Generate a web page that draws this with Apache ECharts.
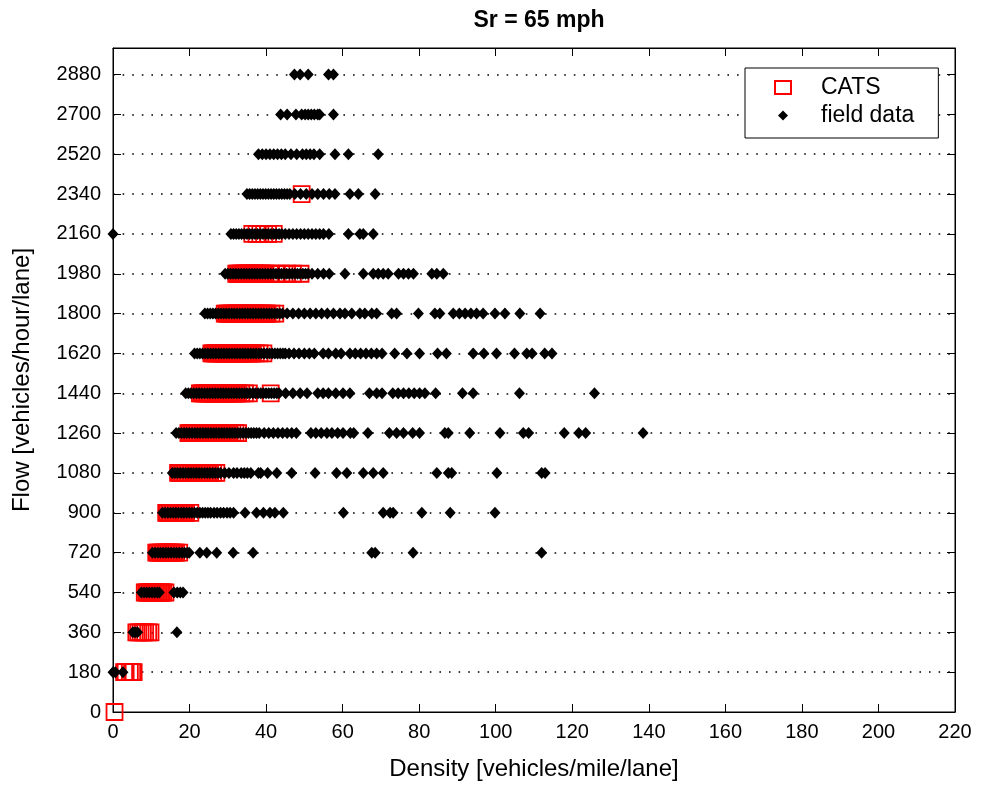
<!DOCTYPE html>
<html>
<head>
<meta charset="utf-8">
<script src="https://cdn.jsdelivr.net/npm/echarts@6/dist/echarts.min.js"></script>
<style>
  html, body { margin: 0; padding: 0; background: #fff; }
  #chart { width: 982px; height: 786px; }
</style>
</head>
<body>
<div id="chart"></div>
<script>
// flow levels (y), one row of points per level
var flowLevels = [0, 180, 360, 540, 720, 900, 1080, 1260, 1440, 1620, 1800, 1980, 2160, 2340, 2520, 2700, 2880];

// field data density values per flow level (same order as flowLevels)
var field0 = [];
var field180 = [0, 0.6, 2.6];
var field360 = [5.2, 5.8, 6.4, 16.7];
var field540 = [7.4, 8.1, 8.8, 9.5, 10.2, 10.9, 11.6, 12.1, 15.9, 16.8, 17.6, 18.3];
var field720 = [10.3, 11, 11.7, 12.4, 13.1, 13.8, 14.5, 15.2, 15.9, 16.6, 17.3, 18, 18.7, 19.4, 19.9,
  22.7, 24.5, 27.1, 31.4, 36.6, 67.6, 68.5, 78.4, 112];
var field900 = [12.9, 13.6, 14.3, 15, 15.7, 16.4, 17.1, 17.8, 18.5, 19.2, 19.9, 20.6, 21.3, 22, 22.7, 23.4,
  24.1, 24.8, 25.5, 26.4, 27.2, 28.1, 28.9, 29.8, 30.6, 31.5, 34.5, 37.5, 39.3, 41, 42.3, 44.5,
  60.2, 70.6, 72.4, 73.2, 80.7, 88.1, 99.8];
var field1080 = [15.5, 16.2, 16.9, 17.6, 18.3, 19, 19.7, 20.4, 21.1, 21.8, 22.5, 23.2, 23.9, 24.6, 25.3, 26,
  26.7, 27.4, 28.1, 29.2, 30.3, 31.5, 32.4, 33.5, 34.3, 35.1, 36, 38, 38.6, 40.4, 42.8, 46.7, 52.8,
  58.4, 61.1, 65.4, 68, 70.6, 84.6, 87.6, 88.5, 100.3, 112, 112.9];
var field1260 = [16.5, 17.2, 17.9, 18.6, 19.3, 20, 20.7, 21.4, 22.1, 22.8, 23.5, 24.2, 24.9, 25.6, 26.3, 27,
  27.7, 28.4, 29.1, 29.8, 30.5, 31.2, 31.9, 32.6, 33.3, 34, 34.7, 35.4, 36.1, 36.8, 37.5, 38.2,
  39.5, 40.7, 41.9, 43.1, 44.3, 45.5, 46.7, 47.9, 51.7, 53, 54.4, 55.9, 57.2, 58.7, 60.1, 62, 62.9,
  66.6, 72.2, 74.1, 75.9, 78.3, 80.1, 86.7, 87.6, 93.2, 101.1, 107.2, 108.6, 117.9, 121.7, 123.5, 138.5];
var field1440 = [19, 19.7, 20.4, 21.1, 21.8, 22.5, 23.2, 23.9, 24.6, 25.3, 26, 26.7, 27.4, 28.1, 28.8, 29.5,
  30.2, 30.9, 31.6, 32.3, 33, 33.7, 34.4, 35.1, 35.8, 36.5, 37.2, 37.9, 38.6, 39.3, 40, 40.7, 41.4,
  42.1, 42.8, 43.4, 45.1, 47, 48.9, 50.7, 53.5, 54.9, 56.3, 58.2, 60.1, 61.9, 67, 68.9, 70.3, 73.1,
  74.5, 75.9, 77.3, 78.7, 80.1, 81.5, 84.3, 91.3, 94.1, 106.2, 125.8];
var field1620 = [21.3, 22, 22.7, 23.4, 24.1, 24.8, 25.5, 26.2, 26.9, 27.6, 28.3, 29, 29.7, 30.4, 31.1, 31.8,
  32.5, 33.2, 33.9, 34.6, 35.3, 36, 36.7, 37.4, 38.1, 38.8, 39.5, 40.2, 40.9, 41.6, 42.3, 43, 43.7,
  44.4, 45, 46, 47.3, 48.6, 50, 51.3, 52.6, 54.9, 56.3, 58.2, 59.6, 61.9, 63.3, 64.7, 66.1, 67.5,
  68.9, 70.3, 73.6, 76.8, 80.1, 84.8, 87.1, 94.1, 96.9, 100.2, 104.9, 108.1, 109.5, 112.8, 114.7];
var field1800 = [24, 24.7, 25.4, 26.1, 26.8, 27.5, 28.2, 28.9, 29.6, 30.3, 31, 31.7, 32.4, 33.1, 33.8, 34.5,
  35.2, 35.9, 36.6, 37.3, 38, 38.7, 39.4, 40.1, 40.8, 41.5, 42.2, 42.9, 43.6, 44.3, 45.5, 47, 48.5,
  50, 51.5, 53, 54.5, 56, 57.6, 59.3, 60.6, 62.4, 64.5, 65.8, 67.6, 68.9, 72.8, 74.1, 79.8, 84.1,
  85.4, 88.9, 90.5, 92, 93.5, 95, 96.7, 99.8, 102.4, 106.3, 111.6];
var field1980 = [29.3, 30, 30.7, 31.4, 32.1, 32.8, 33.5, 34.2, 34.9, 35.6, 36.3, 37, 37.7, 38.4, 39.1, 39.8,
  40.5, 41.2, 41.9, 42.6, 43.3, 44, 44.7, 45.4, 46.1, 46.8, 47.5, 48.2, 48.9, 49.6, 50.3, 51, 52,
  53.5, 55, 56.5, 60.6, 65.4, 68, 69.3, 70.6, 71.9, 74.6, 75.9, 77.2, 78.5, 83.3, 84.6, 86.3];
var field2160 = [0, 30.8, 31.5, 32.2, 32.9, 33.6, 34.3, 35, 35.7, 36.4, 37.1, 37.8, 38.5, 39.2, 39.9, 40.6,
  41.3, 42, 42.7, 43.4, 44.1, 45, 46, 47, 48, 49, 50, 51, 52, 53, 54, 55, 56.4, 61.5, 64.5, 65.4, 68];
var field2340 = [35, 35.7, 36.4, 37.1, 37.8, 38.5, 39.2, 39.9, 40.6, 41.3, 42, 42.7, 43.4, 44.1, 44.8, 45.5,
  46.2, 47.5, 49, 50.5, 52, 53.5, 55, 56.5, 58, 61.9, 64.1, 68.5];
var field2520 = [38, 39, 40, 41, 42, 43, 44, 45, 46.5, 48, 49.5, 50.5, 51.5, 52.5, 54, 58, 61.5, 69.3];
var field2700 = [43.8, 45.5, 47.8, 49.3, 50.2, 51, 51.8, 52.6, 53.5, 54, 57.6];
var field2880 = [47.4, 48.9, 51, 56.3, 57.6];

// CATS density values per flow level
var cats0 = [0.4];
var cats180 = [2.9, 3.3, 4.4, 5.0, 5.4];
var cats360 = [6.1, 6.6, 7.2, 7.8, 8.4, 9.2, 9.8];
var cats540 = [8.3, 8.7, 9.1, 9.5, 9.9, 10.3, 10.7, 11.1, 11.5, 11.9, 12.3, 12.7, 13.1, 13.7];
var cats720 = [11.3, 11.7, 12.1, 12.5, 12.9, 13.3, 13.7, 14.1, 14.5, 14.9, 15.3, 15.7, 16.1, 16.5, 17.3];
var cats900 = [13.9, 14.3, 14.7, 15.1, 15.5, 15.9, 16.3, 16.7, 17.1, 17.5, 17.9, 18.3, 18.7, 19.1, 20.2];
var cats1080 = [17, 17.4, 17.8, 18.2, 18.6, 19, 19.4, 19.8, 20.2, 20.6, 21, 21.4, 21.8, 22.2, 22.6, 23, 23.4,
  23.8, 24.2, 24.6, 25, 25.4, 26.2, 27];
var cats1260 = [19.7, 20.1, 20.5, 20.9, 21.3, 21.7, 22.1, 22.5, 22.9, 23.3, 23.7, 24.1, 24.5, 24.9, 25.3, 25.7,
  26.1, 26.5, 26.9, 27.3, 27.7, 28.1, 28.5, 28.9, 29.3, 29.7, 30.1, 30.5, 31.2, 32, 32.7];
var cats1440 = [22.7, 23.1, 23.5, 23.9, 24.3, 24.7, 25.1, 25.5, 25.9, 26.3, 26.7, 27.1, 27.5, 27.9, 28.3, 28.7,
  29.1, 29.5, 29.9, 30.3, 30.7, 31.1, 31.5, 31.9, 32.3, 32.7, 33.5, 34.5, 35.5, 41.2];
var cats1620 = [25.7, 26.1, 26.5, 26.9, 27.3, 27.7, 28.1, 28.5, 28.9, 29.3, 29.7, 30.1, 30.5, 30.9, 31.3, 31.7,
  32.1, 32.5, 32.9, 33.3, 33.7, 34.1, 34.5, 34.9, 35.3, 35.7, 36.1, 36.5, 37.3, 38.3, 39.3];
var cats1800 = [29.2, 29.6, 30, 30.4, 30.8, 31.2, 31.6, 32, 32.4, 32.8, 33.2, 33.6, 34, 34.4, 34.8, 35.2, 35.6,
  36, 36.4, 36.8, 37.2, 37.6, 38, 38.4, 38.8, 39.2, 39.6, 40, 40.4, 41.4, 42.4];
var cats1980 = [32.2, 32.6, 33, 33.4, 33.8, 34.2, 34.6, 35, 35.4, 35.8, 36.2, 36.6, 37, 37.4, 37.8, 38.2, 38.6,
  39, 39.4, 39.8, 41, 42.5, 44, 45.5, 47, 49];
var cats2160 = [36.4, 37.5, 38.5, 39.5, 40.5, 42];
var cats2340 = [49.3];
var cats2520 = [];
var cats2700 = [];
var cats2880 = [];

var fieldRows = [field0, field180, field360, field540, field720, field900, field1080, field1260, field1440,
  field1620, field1800, field1980, field2160, field2340, field2520, field2700, field2880];
var catsRows = [cats0, cats180, cats360, cats540, cats720, cats900, cats1080, cats1260, cats1440,
  cats1620, cats1800, cats1980, cats2160, cats2340, cats2520, cats2700, cats2880];

// axis ranges: [min, max, interval]
var densityAxis = [0, 220, 20];
var flowAxis = [0, 3000, 180];

var seriesNames = ['CATS', 'field data'];

function toPoints(rows) {
  var pts = [];
  for (var i = 0; i < rows.length; i++) {
    for (var j = 0; j < rows[i].length; j++) {
      pts.push([rows[i][j], flowLevels[i]]);
    }
  }
  return pts;
}

function plainNumber(v) {
  return String(v);
}

var textFont = "'Liberation Sans', Arial, sans-serif";

var chart = echarts.init(document.getElementById('chart'), null, { renderer: 'canvas' });

var option = {
  animation: false,
  backgroundColor: '#ffffff',
  title: {
    text: 'Sr = 65 mph',
    left: 534,
    top: 4,
    textAlign: 'center',
    textStyle: { fontFamily: textFont, fontSize: 23, fontWeight: 'bold', color: '#000' }
  },
  // box round the plot, like the matlab axes
  grid: { left: 113, right: 27, top: 48, bottom: 74, show: true, borderColor: '#000', borderWidth: 1 },
  legend: {
    orient: 'vertical',
    left: 745,
    top: 68,
    padding: [8, 24, 11, 29],
    itemGap: 5,
    itemWidth: 16,
    itemHeight: 13,
    borderColor: '#000',
    borderWidth: 1,
    backgroundColor: '#fff',
    selectedMode: false,
    textStyle: { fontFamily: textFont, fontSize: 23, color: '#000', padding: [0, 0, 0, 25] },
    data: [
      { name: 'CATS', icon: 'rect' },
      { name: 'field data', icon: 'path://M0,0L0,0M16,13L16,13M8,1.5L13,6.5L8,11.5L3,6.5Z' }
    ]
  },
  xAxis: [{
    type: 'value',
    z: 1,
    min: densityAxis[0], max: densityAxis[1], interval: densityAxis[2],
    name: 'Density [vehicles/mile/lane]',
    nameLocation: 'middle',
    nameGap: 45,
    nameTextStyle: { fontFamily: textFont, fontSize: 24, color: '#000' },
    axisLine: { show: true, onZero: false, lineStyle: { color: '#000', width: 1 } },
    axisTick: { show: true, inside: true, length: 8, lineStyle: { color: '#000' } },
    axisLabel: { fontFamily: textFont, fontSize: 20, color: '#000', margin: 10, formatter: plainNumber },
    splitLine: { show: false }
  }, {
    type: 'value',
    z: 1,
    position: 'top',
    min: densityAxis[0], max: densityAxis[1], interval: densityAxis[2],
    axisLine: { show: true, onZero: false, lineStyle: { color: '#000', width: 1 } },
    axisTick: { show: true, inside: true, length: 8, lineStyle: { color: '#000' } },
    axisLabel: { show: false },
    splitLine: { show: false }
  }],
  yAxis: [{
    type: 'value',
    z: 0,
    min: flowAxis[0], max: flowAxis[1], interval: flowAxis[2],
    name: 'Flow [vehicles/hour/lane]',
    nameLocation: 'middle',
    nameGap: 79,
    nameTextStyle: { fontFamily: textFont, fontSize: 24, color: '#000' },
    axisLine: { show: true, onZero: false, lineStyle: { color: '#000', width: 1 } },
    axisTick: { show: true, inside: true, length: 8, lineStyle: { color: '#000' } },
    axisLabel: { fontFamily: textFont, fontSize: 20, color: '#000', margin: 12, showMaxLabel: false, formatter: plainNumber },
    splitLine: {
      show: true, showMinLine: false, showMaxLine: false,
      lineStyle: { color: '#000', width: 1.6, type: [1.6, 8] }
    }
  }, {
    type: 'value',
    z: 1,
    position: 'right',
    min: flowAxis[0], max: flowAxis[1], interval: flowAxis[2],
    axisLine: { show: true, onZero: false, lineStyle: { color: '#000', width: 1 } },
    axisTick: { show: true, inside: true, length: 8, lineStyle: { color: '#000' } },
    axisLabel: { show: false },
    splitLine: { show: false }
  }],
  series: [{
    name: seriesNames[0],
    type: 'scatter',
    xAxisIndex: 0, yAxisIndex: 0,
    symbol: 'rect',
    symbolSize: 16,
    clip: false,
    z: 2,
    itemStyle: { color: 'rgba(255,255,255,0)', borderColor: '#ff0000', borderWidth: 1.8, opacity: 1 },
    emphasis: { disabled: true },
    data: toPoints(catsRows)
  }, {
    name: seriesNames[1],
    type: 'scatter',
    xAxisIndex: 0, yAxisIndex: 0,
    symbol: 'diamond',
    symbolSize: [11, 12],
    clip: false,
    z: 3,
    itemStyle: { color: '#000', opacity: 1 },
    emphasis: { disabled: true },
    data: toPoints(fieldRows)
  }]
};

chart.setOption(option);
</script>
</body>
</html>
